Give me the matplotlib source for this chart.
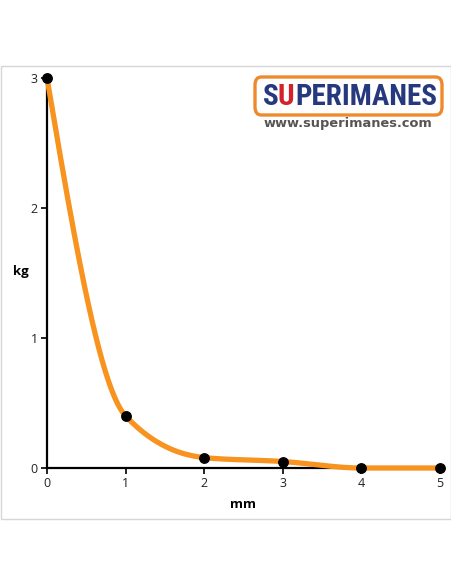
import numpy as np
import matplotlib.pyplot as plt
from matplotlib.patches import FancyBboxPatch, Rectangle

# data
mm = [0, 1, 2, 3, 4, 5]
kg = [3.0, 0.40, 0.08, 0.05, 0.0, 0.0]
x_ticks = [0, 1, 2, 3, 4, 5]
y_ticks = [0, 1, 2, 3]


# monotone cubic through the points (same rule as d3.curveMonotoneX)
def monotone(x, y, xs):
    x = np.asarray(x, float)
    y = np.asarray(y, float)
    h = np.diff(x)
    s = np.diff(y) / h
    n = len(x)
    m = np.zeros(n)
    for i in range(1, n - 1):
        p = (s[i - 1] * h[i] + s[i] * h[i - 1]) / (h[i - 1] + h[i])
        m[i] = (np.sign(s[i - 1]) + np.sign(s[i])) * min(abs(s[i - 1]), abs(s[i]), 0.5 * abs(p))
    m[0] = (3 * s[0] - m[1]) / 2
    m[-1] = (3 * s[-1] - m[-2]) / 2
    idx = np.clip(np.searchsorted(x, xs) - 1, 0, n - 2)
    t = (xs - x[idx]) / h[idx]
    h00 = 2 * t ** 3 - 3 * t ** 2 + 1
    h10 = t ** 3 - 2 * t ** 2 + t
    h01 = -2 * t ** 3 + 3 * t ** 2
    h11 = t ** 3 - t ** 2
    return h00 * y[idx] + h10 * h[idx] * m[idx] + h01 * y[idx + 1] + h11 * h[idx] * m[idx + 1]


xs = np.linspace(mm[0], mm[-1], 500)
ys = monotone(mm, kg, xs)

plt.rcParams['font.family'] = ['Open Sans', 'DejaVu Sans']

fig = plt.figure(figsize=(4.52, 5.84), dpi=100)

# light frame around the chart
fig.patches.append(Rectangle((1 / 452, 65 / 584), 450 / 452, 453 / 584,
                             transform=fig.transFigure, fill=False,
                             edgecolor='#d6d6d6', lw=1))

ax = fig.add_axes([47 / 452, 116 / 584, 393 / 452, 390 / 584])
ax.plot(xs, ys, color='#F7931E', lw=3.8, solid_capstyle='round',
        clip_on=False, zorder=4)
ax.plot(mm, kg, 'o', color='black', ms=6.8, clip_on=False, zorder=5)

ax.set_xlim(0, 5)
ax.set_ylim(0, 3)
ax.set_xticks(x_ticks)
ax.set_yticks(y_ticks)
ax.tick_params(length=4.5, width=1.4, labelsize=9, pad=2, colors='#222222')
for s in ['top', 'right']:
    ax.spines[s].set_visible(False)
for s in ['left', 'bottom']:
    ax.spines[s].set_linewidth(1.6)
ax.set_facecolor('none')

fig.text(13 / 452, 1 - 272 / 584, 'kg', fontsize=9.5, fontweight='bold',
         ha='left', va='center')
fig.text(243 / 452, 1 - 504 / 584, 'mm', fontsize=9.5, fontweight='bold',
         ha='center', va='center')

# logo
fig.patches.append(FancyBboxPatch((255 / 452, 1 - 115 / 584), 187 / 452, 38 / 584,
                                  boxstyle='round,pad=0,rounding_size=0.014',
                                  transform=fig.transFigure, facecolor='white',
                                  edgecolor='#EE8A2C', lw=2.4))
logo_font = ['Roboto Condensed', 'Liberation Sans']
fig.text(263 / 452, 1 - 97 / 584, 'S', fontsize=21, fontweight='bold',
         color='#26387E', ha='left', va='center', family=logo_font)
fig.text(285.5 / 452, 1 - 97 / 584, 'U', fontsize=21, fontweight='bold',
         color='#D2232A', ha='center', va='center', family=logo_font)
fig.text(295 / 452, 1 - 97 / 584, 'PERIMANES', fontsize=21, fontweight='bold',
         color='#26387E', ha='left', va='center', family=logo_font)
fig.text(348 / 452, 1 - 123 / 584, 'www.superimanes.com',
         fontsize=9.4, fontweight='bold', color='#555555',
         ha='center', va='center', family=['DejaVu Sans'])

fig.savefig('out.png', dpi=100)
